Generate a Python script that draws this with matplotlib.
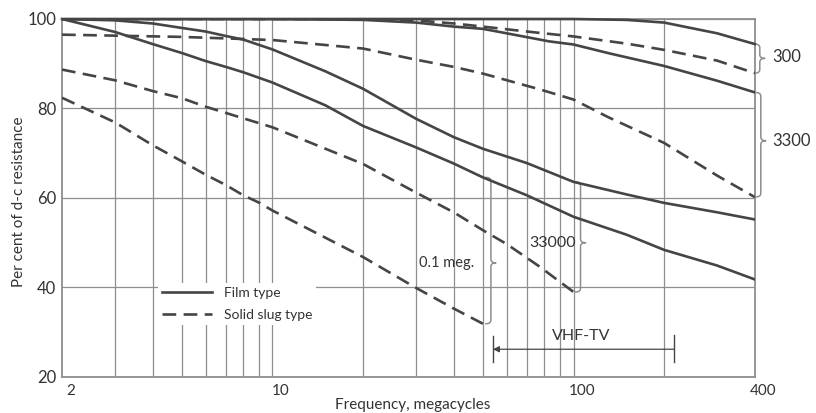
import numpy as np
import matplotlib
matplotlib.use("Agg")
import matplotlib.pyplot as plt
from matplotlib.transforms import ScaledTranslation

# ---------------- data (frequency in Mc, percent of d-c resistance) ----------------
film300_f = [2, 100, 150, 200, 300, 400]
film300_v = [100, 100, 99.8, 99.2, 96.8, 94.4]

film3300_f = [2, 10, 20, 30, 40, 50, 60, 83, 100, 130, 200, 300, 400]
film3300_v = [100, 100, 99.8, 99.2, 98.3, 97.8, 96.8, 95.0, 94.3, 92.4, 89.5, 86.2, 83.6]

film33000_f = [2, 3, 4, 5, 6, 7, 8, 10, 15, 20, 30, 40, 50, 70, 100, 150, 200, 300, 400]
film33000_v = [100, 99.7, 99.0, 98.0, 97.2, 96.2, 95.4, 93.2, 88.3, 84.4, 77.7, 73.6, 71.0, 67.8, 63.6, 60.8, 58.9, 56.8, 55.2]

film100k_f = [2, 3, 4, 5, 6, 7, 8, 10, 15, 20, 30, 40, 50, 70, 100, 150, 200, 300, 400]
film100k_v = [100, 97.1, 94.4, 92.4, 90.6, 89.3, 88.1, 85.8, 80.7, 76.1, 71.3, 67.7, 64.6, 60.6, 55.8, 51.8, 48.4, 44.9, 41.8]

slug300_f = [2, 20, 30, 40, 50, 70, 100, 150, 200, 300, 400]
slug300_v = [100, 100, 99.7, 99.0, 98.3, 97.2, 96.1, 94.5, 93.1, 90.7, 87.9]

slug3300_f = [2, 5, 10, 20, 30, 40, 50, 77, 100, 130, 200, 300, 400]
slug3300_v = [96.5, 96.0, 95.3, 93.4, 90.9, 89.3, 87.8, 84.3, 82.0, 78.1, 72.3, 65.0, 60.2]

slug33000_f = [2, 3, 4, 5, 6, 10, 20, 30, 40, 50, 60, 77, 100]
slug33000_v = [88.7, 86.3, 83.9, 82.3, 80.4, 75.8, 67.6, 61.2, 56.8, 52.8, 49.7, 44.7, 39.0]

slug100k_f = [2, 3, 4, 5, 6, 7, 8, 9, 10, 20, 30, 40, 50]
slug100k_v = [82.4, 76.9, 71.8, 68.2, 65.2, 62.9, 60.6, 59.0, 57.2, 46.8, 39.9, 35.3, 31.9]

x_ticks = [2, 10, 100, 400]
x_ticklabels = ["2", "10", "100", "400"]
y_ticks = [20, 40, 60, 80, 100]
x_grid = [3, 4, 5, 6, 7, 8, 9, 10, 20, 30, 40, 50, 60, 70, 80, 90, 100, 200]
vhf_band = (54, 216)

# ---------------- style ----------------
INK = "#454545"
GRID = "#8e8e8e"
TXT = "#333333"
plt.rcParams['font.family'] = ['Lato', 'DejaVu Sans']

fig = plt.figure(figsize=(8.16, 4.13), dpi=100)
ax = fig.add_axes([0.076, 0.0872, 0.849, 0.8668])
ax.set_xscale('log')
ax.set_xlim(2, 400)
ax.set_ylim(20, 100)

for xv in x_grid:
    ax.axvline(xv, color=GRID, lw=0.9, zorder=1)
for yv in y_ticks:
    ax.axhline(yv, color=GRID, lw=0.9, zorder=1)
for s in ax.spines.values():
    s.set_color(GRID)
    s.set_linewidth(1.3)

lw = 1.9
dash = (5.2, 2.8)
ax.plot(film300_f, film300_v, color=INK, lw=lw, zorder=3, label="Film type", clip_on=False)
ax.plot(film3300_f, film3300_v, color=INK, lw=lw, zorder=3)
ax.plot(film33000_f, film33000_v, color=INK, lw=lw, zorder=3)
ax.plot(film100k_f, film100k_v, color=INK, lw=lw, zorder=3)
ax.plot(slug300_f, slug300_v, color=INK, lw=lw, ls=(0, dash), zorder=3, label="Solid slug type")
ax.plot(slug3300_f, slug3300_v, color=INK, lw=lw, ls=(0, dash), zorder=3)
ax.plot(slug33000_f, slug33000_v, color=INK, lw=lw, ls=(0, dash), zorder=3)
ax.plot(slug100k_f, slug100k_v, color=INK, lw=lw, ls=(0, dash), zorder=3)

# ticks
ax.set_xticks(x_ticks)
ax.set_xticklabels(x_ticklabels)
ax.minorticks_off()
ax.set_yticks(y_ticks)
ax.set_yticklabels([str(v) for v in y_ticks])
ax.tick_params(axis='both', length=0, colors=TXT)
ax.tick_params(axis='y', labelsize=12, pad=4)
ax.tick_params(axis='x', labelsize=11, pad=5)
for lab in ax.get_xticklabels():
    lab.set_transform(lab.get_transform() + ScaledTranslation(6 / 72, 0, fig.dpi_scale_trans))

ax.set_xlabel("Frequency, megacycles", fontsize=11, color=TXT)
ax.xaxis.set_label_coords(0.506, -0.058)
ax.set_ylabel("Per cent of d-c resistance", fontsize=11, color=TXT)
ax.yaxis.set_label_coords(-0.052, 0.49)

# legend
leg = ax.legend(loc='upper left', bbox_to_anchor=(0.139, 0.262), frameon=True,
                fontsize=10, handlelength=3.6, handletextpad=0.8, labelspacing=0.7,
                borderpad=0.3, borderaxespad=0)
leg.get_frame().set_facecolor('white')
leg.get_frame().set_edgecolor('none')
leg.get_frame().set_alpha(1)
leg.set_zorder(4)
for t in leg.get_texts():
    t.set_color(TXT)

# ---------------- braces ----------------
fig.canvas.draw()
bb = ax.get_window_extent()
AXW, AXH = bb.width, bb.height
LOGSPAN = np.log10(400 / 2)


def px2x(xc, dx):
    return xc * 10 ** (dx * LOGSPAN / AXW)


def px2v(v, dy):
    return v + dy * 80 / AXH


def qbez(p0, p1, p2, n=12):
    t = np.linspace(0, 1, n)[:, None]
    return (1 - t) ** 2 * np.array(p0) + 2 * (1 - t) * t * np.array(p1) + t ** 2 * np.array(p2)


def brace(xc, vtop, vbot, vmid, w=5, tip=5, r=4):
    # work in pixel offsets relative to (xc, vmid)
    ytop = (vtop - vmid) * AXH / 80
    ybot = (vbot - vmid) * AXH / 80
    seg = [qbez((-w, ytop), (0, ytop), (0, ytop - r)),
           np.array([(0, ytop - r), (0, r)]),
           qbez((0, r), (0, 0), (tip, 0)),
           qbez((tip, 0), (0, 0), (0, -r)),
           np.array([(0, -r), (0, ybot + r)]),
           qbez((0, ybot + r), (0, ybot), (-w, ybot))]
    pts = np.vstack(seg)
    xs = [px2x(xc, p[0]) for p in pts]
    ys = [px2v(vmid, p[1]) for p in pts]
    ax.plot(xs, ys, color=GRID, lw=1.1, clip_on=False, zorder=2)


brace(px2x(400, 5), film300_v[-1], slug300_v[-1], 91.2, w=5, tip=5)
brace(px2x(400, 6), film3300_v[-1], slug3300_v[-1], 72.8, w=6, tip=5)
brace(px2x(100, 7), 63.6, slug33000_v[-1], 50.0, w=5, tip=5)
brace(px2x(50, 8), 64.6, slug100k_v[-1], 45.5, w=5, tip=5)

ax.text(px2x(400, 17), 91.4, "300", fontsize=12, color=TXT, ha='left', va='center')
ax.text(px2x(400, 17), 72.8, "3300", fontsize=12, color=TXT, ha='left', va='center', clip_on=False)
ax.text(px2x(100, 2), 50.0, "33000", fontsize=11.5, color=TXT, ha='right', va='center')
ax.text(px2x(50, -9), 45.5, "0.1 meg.", fontsize=10.5, color=TXT, ha='right', va='center')

# VHF-TV band
yb = 26.2
ax.annotate('', xy=(vhf_band[0], yb), xytext=(vhf_band[1], yb),
            arrowprops=dict(arrowstyle='-|>', color=INK, lw=0.9, mutation_scale=9,
                            shrinkA=0, shrinkB=0), zorder=3)
ax.plot([vhf_band[0], vhf_band[0]], [yb - 2.9, yb + 3.0], color=INK, lw=1.0, zorder=3)
ax.plot([vhf_band[1], vhf_band[1]], [yb - 2.9, yb + 3.2], color=INK, lw=1.0, zorder=3)
ax.text(np.sqrt(vhf_band[0] * vhf_band[1]) * 10 ** (-2 * LOGSPAN / AXW), 29.2, "VHF-TV",
        fontsize=11.5, color=TXT, ha='center', va='center')

fig.savefig("out.png", dpi=100, facecolor='white')
